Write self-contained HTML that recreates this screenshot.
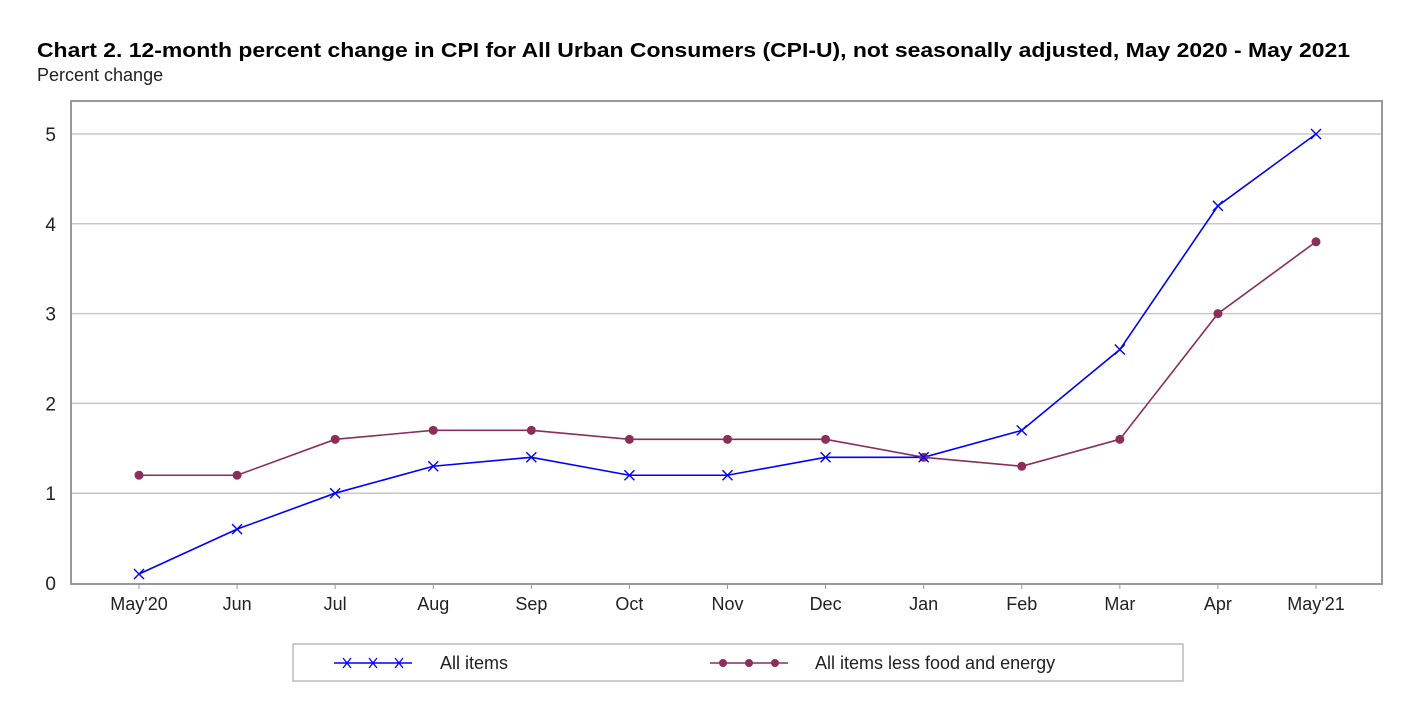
<!DOCTYPE html>
<html><head><meta charset="utf-8"><style>
body{margin:0;background:#fff;width:1420px;height:714px;overflow:hidden;font-family:"Liberation Sans",sans-serif}
</style></head><body>
<svg width="1420" height="714" id="chart">
<text x="37" y="57" font-size="20" font-weight="bold" fill="#000" textLength="1313" lengthAdjust="spacingAndGlyphs">Chart 2. 12-month percent change in CPI for All Urban Consumers (CPI-U), not seasonally adjusted, May 2020 - May 2021</text>
<text x="37" y="81" font-size="18" fill="#222">Percent change</text>
<g id="grid"></g>
<rect x="71" y="101" width="1311" height="483" fill="none" stroke="#999" stroke-width="2"/>
<g id="series"></g>
<rect x="293" y="644" width="890" height="37" fill="#fff" stroke="#bbb" stroke-width="1.5"/>
<g>
<line x1="334" y1="663" x2="412" y2="663" stroke="#0000ff" stroke-width="1.5"/>
<path d="M343 658l8 10M351 658l-8 10M369 658l8 10M377 658l-8 10M395 658l8 10M403 658l-8 10" stroke="#0000ff" stroke-width="1.3"/>
<text x="440" y="669" font-size="18" fill="#222">All items</text>
</g>
<g>
<line x1="710" y1="663" x2="788" y2="663" stroke="#8b2e5a" stroke-width="1.5"/>
<circle cx="723" cy="663" r="4" fill="#8b2e5a"/><circle cx="749" cy="663" r="4" fill="#8b2e5a"/><circle cx="775" cy="663" r="4" fill="#8b2e5a"/>
<text x="815" y="669" font-size="18" fill="#222">All items less food and energy</text>
</g>
</svg>
<script>
const categories=["May'20","Jun","Jul","Aug","Sep","Oct","Nov","Dec","Jan","Feb","Mar","Apr","May'21"];
const allItems=[0.1,0.6,1.0,1.3,1.4,1.2,1.2,1.4,1.4,1.7,2.6,4.2,5.0];
const core=[1.2,1.2,1.6,1.7,1.7,1.6,1.6,1.6,1.4,1.3,1.6,3.0,3.8];
const yTicks=[0,1,2,3,4,5];
const NS="http://www.w3.org/2000/svg";
const x=i=>139+i*(1316-139)/(categories.length-1);
const y=v=>583-v*(583-134)/5;
function mk(t,a,p){const e=document.createElementNS(NS,t);for(const k in a)e.setAttribute(k,a[k]);p.appendChild(e);return e;}
const grid=document.getElementById('grid'),svg=document.getElementById('chart'),ser=document.getElementById('series');
yTicks.forEach(v=>{
 if(v>0){const l=mk('line',{x1:71,x2:1382,y1:y(v),y2:y(v),stroke:'#c8c8c8','stroke-width':1.5},grid);
 
 }
 const t=mk('text',{x:56,y:y(v)+7,'font-size':19,fill:'#222','text-anchor':'end'},svg);t.textContent=v;
 
 
});
categories.forEach((c,i)=>{
 mk('line',{x1:x(i),x2:x(i),y1:584,y2:589,stroke:'#999'},svg);
 const t=mk('text',{x:x(i),y:610,'font-size':18,fill:'#222','text-anchor':'middle'},svg);t.textContent=c;
 
 
});
function line(data,col,name){
 const p=mk('polyline',{points:data.map((v,i)=>x(i)+','+y(v)).join(' '),fill:'none',stroke:col,'stroke-width':1.6},ser);
 
 
}
line(core,'#8b2e5a','core');
line(allItems,'#0000ff','all-items');
core.forEach((v,i)=>{const c=mk('circle',{cx:x(i),cy:y(v),r:4.5,fill:'#8b2e5a'},ser);
 
 });
allItems.forEach((v,i)=>{const X=x(i),Y=y(v);
 const p=mk('path',{d:`M${X-5} ${Y-5}L${X+5} ${Y+5}M${X+5} ${Y-5}L${X-5} ${Y+5}`,stroke:'#0000ff','stroke-width':1.4},ser);
 
 });
</script>
</body></html>
